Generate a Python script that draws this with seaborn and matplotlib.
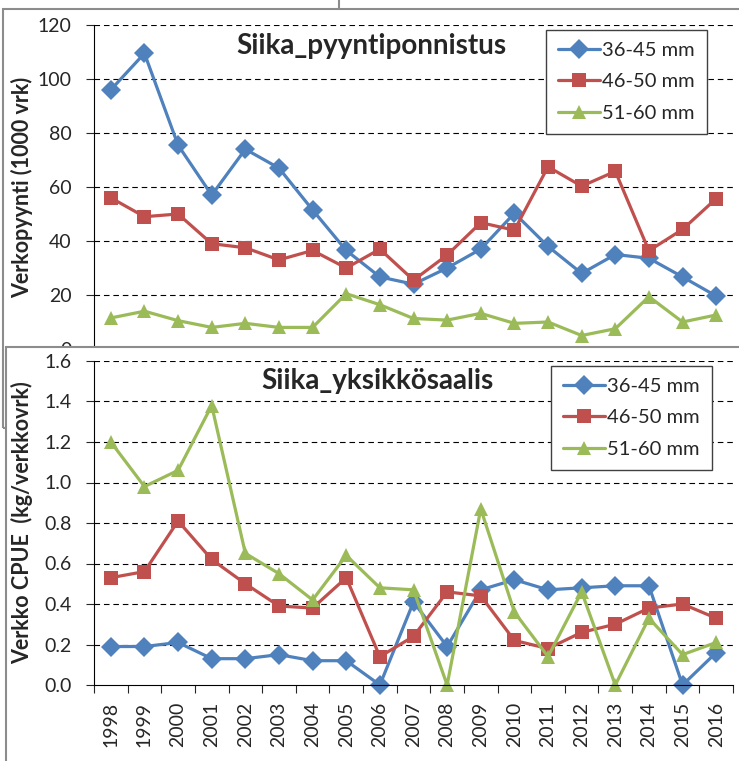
import numpy as np
import pandas as pd
import matplotlib.pyplot as plt
import seaborn as sns
from matplotlib.patches import Rectangle
from matplotlib.lines import Line2D

years = [str(y) for y in range(1998, 2017)]
series = ['36-45 mm', '46-50 mm', '51-60 mm']

# Siika_pyyntiponnistus (1000 vrk)
effort_36_45 = [96, 109.5, 75.5, 57, 74, 67, 51.5, 36.5, 26.7, 24, 30, 37, 50.3, 38, 28, 35, 33.6, 26.7, 19.6]
effort_46_50 = [56, 49, 50, 39, 37.5, 33, 36.5, 30, 37, 25.5, 34.8, 46.8, 44, 67.5, 60.3, 65.8, 36.4, 44.3, 55.7]
effort_51_60 = [11.5, 14, 10.5, 8, 9.5, 8, 8, 20.5, 16.4, 11.3, 10.7, 13.2, 9.5, 10, 5, 7.5, 19.4, 10, 12.6]

# Siika_yksikkösaalis (kg/verkkovrk)
cpue_36_45 = [0.19, 0.19, 0.21, 0.13, 0.13, 0.15, 0.12, 0.12, 0.0, 0.41, 0.19, 0.47, 0.52, 0.47, 0.48, 0.49, 0.49, 0.0, 0.16]
cpue_46_50 = [0.53, 0.56, 0.81, 0.62, 0.50, 0.39, 0.38, 0.53, 0.14, 0.24, 0.46, 0.44, 0.22, 0.18, 0.26, 0.30, 0.38, 0.40, 0.33]
cpue_51_60 = [1.20, 0.98, 1.06, 1.38, 0.65, 0.55, 0.42, 0.64, 0.48, 0.47, 0.0, 0.87, 0.36, 0.14, 0.46, 0.0, 0.33, 0.15, 0.21]

colors = ['#4F81BD', '#C0504D', '#9BBB59']
markers = ['D', 's', '^']
palette = dict(zip(series, colors))
marker_map = dict(zip(series, markers))

sns.set_style('white')
plt.rcParams['font.family'] = ['Lato', 'DejaVu Sans']

W, H = 739, 761
fig = plt.figure(figsize=(W / 100, H / 100), dpi=100)


def box(x0, y0, x1, y1):
    # pixel box (from top-left) -> figure fraction
    return [x0 / W, 1 - y1 / H, (x1 - x0) / W, (y1 - y0) / H]


def long_df(a, b, c):
    return pd.DataFrame({
        'x': list(range(len(years))) * 3,
        'value': a + b + c,
        'series': np.repeat(series, len(years)),
    })


frame_col = '#8c8c8c'
grid_kw = dict(color='black', lw=0.8, ls=(0, (5, 3.5)))
tick_fs = 14

# frames of the two pasted charts
fig.add_artist(Rectangle((3 / W, 1 - 428 / H), 1.0, (428 - 9) / H, transform=fig.transFigure,
                         fill=False, edgecolor=frame_col, lw=1.5, zorder=-1))
fig.add_artist(Line2D([339 / W, 339 / W], [1, 1 - 9 / H], transform=fig.transFigure,
                      color=frame_col, lw=1.5, zorder=-1))

# top chart
ax1 = fig.add_axes(box(94, 25, 733, 349))
ax1.set_facecolor('none')
ax1.set_zorder(0)
sns.lineplot(data=long_df(effort_36_45, effort_46_50, effort_51_60), x='x', y='value',
             hue='series', style='series', palette=palette, markers=marker_map, dashes=False,
             lw=2.3, markersize=10, markeredgewidth=0, legend=False, ax=ax1)
ax1.set_xlim(-0.5, 18.5)
ax1.set_ylim(0, 120)
ax1.set_yticks(range(0, 121, 20))
ax1.set_xticks([])
ax1.set_xlabel('')
ax1.set_ylabel('')
for v in range(20, 121, 20):
    ax1.axhline(v, **grid_kw, zorder=0)
for s in ['top', 'right', 'bottom']:
    ax1.spines[s].set_visible(False)
ax1.spines['left'].set_color('black')
ax1.spines['left'].set_lw(0.8)
ax1.tick_params(axis='y', direction='out', length=6, width=0.8, pad=10, labelsize=tick_fs, left=True)

# bottom chart panel covering the lower part of the top chart
fig.add_artist(Rectangle((6 / W, -0.01), 1.0, 1 - 347 / H + 0.01, transform=fig.transFigure,
                         facecolor='white', edgecolor=frame_col, lw=1.5, zorder=1))

ax2 = fig.add_axes(box(94, 361, 733, 685))
ax2.set_facecolor('none')
ax2.set_zorder(2)
sns.lineplot(data=long_df(cpue_36_45, cpue_46_50, cpue_51_60), x='x', y='value',
             hue='series', style='series', palette=palette, markers=marker_map, dashes=False,
             lw=2.3, markersize=10, markeredgewidth=0, legend=False, ax=ax2, clip_on=False)
ax2.set_xlim(-0.5, 18.5)
ax2.set_ylim(0, 1.6)
ax2.set_yticks(np.arange(0, 1.61, 0.2))
ax2.set_yticklabels([f'{v:.1f}' for v in np.arange(0, 1.61, 0.2)])
ax2.set_xticks(range(len(years)))
ax2.set_xticklabels(years, rotation=90)
ax2.set_xticks(np.arange(-0.5, 18.6, 1), minor=True)
ax2.set_xlabel('')
ax2.set_ylabel('')
for v in np.arange(0.2, 1.61, 0.2):
    ax2.axhline(v, **grid_kw, zorder=0)
for s in ['top', 'right']:
    ax2.spines[s].set_visible(False)
for s in ['left', 'bottom']:
    ax2.spines[s].set_color('black')
    ax2.spines[s].set_lw(0.8)
ax2.tick_params(axis='y', direction='out', length=6, width=0.8, pad=10, labelsize=tick_fs, left=True)
ax2.tick_params(axis='x', which='major', length=0, pad=12, labelsize=tick_fs, bottom=True)
ax2.tick_params(axis='x', which='minor', direction='out', length=6, width=0.8, bottom=True)

# titles and axis labels
fig.text(371 / W, 1 - 46 / H, 'Siika_pyyntiponnistus', ha='center', va='center',
         fontsize=20, fontweight='bold')
fig.text(377 / W, 1 - 381 / H, 'Siika_yksikkösaalis', ha='center', va='center',
         fontsize=20, fontweight='bold', zorder=3)
fig.text(22 / W, 1 - 187 / H, 'Verkopyynti (1000 vrk)', ha='center', va='center',
         rotation=90, fontsize=15.5, fontweight='bold')
fig.text(22 / W, 1 - 523 / H, 'Verkko CPUE  (kg/verkkovrk)', ha='center', va='center',
         rotation=90, fontsize=15.5, fontweight='bold', zorder=3)

# legends
handles = [Line2D([], [], color=c, marker=m, lw=2.3, ms=10, mew=0) for c, m in zip(colors, markers)]
leg_kw = dict(loc='upper right', bbox_transform=fig.transFigure, fontsize=14.5, frameon=True,
              fancybox=False, framealpha=1, edgecolor='#404040', handlelength=2.1,
              handletextpad=0.1, labelspacing=0.7, borderpad=0.6, borderaxespad=0)
leg1 = ax1.legend(handles, series, bbox_to_anchor=(707 / W, 1 - 30 / H), **leg_kw)
leg1.get_frame().set_linewidth(1.0)
leg2 = ax2.legend(handles, series, bbox_to_anchor=(712 / W, 1 - 366 / H), **leg_kw)
leg2.get_frame().set_linewidth(1.0)

fig.savefig('out.png', dpi=100)
